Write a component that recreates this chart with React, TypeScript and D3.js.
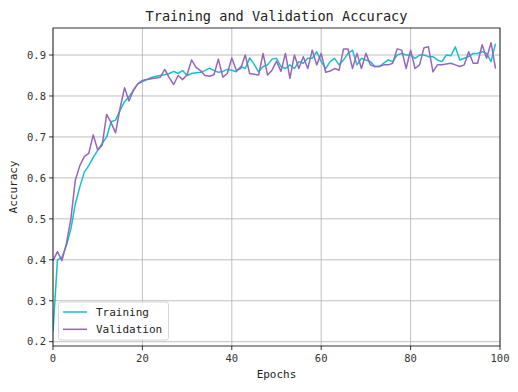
import React from "react";
import * as d3 from "d3";

const epochs: number[] = Array.from({ length: 100 }, (_, i) => i);

const training: number[] = [
  0.225, 0.4, 0.406, 0.435, 0.475, 0.537, 0.578, 0.614, 0.63, 0.65,
  0.667, 0.684, 0.7, 0.737, 0.741, 0.765, 0.786, 0.798, 0.814, 0.83,
  0.835, 0.84, 0.845, 0.848, 0.85, 0.852, 0.855, 0.86, 0.855, 0.862,
  0.85, 0.855, 0.857, 0.858, 0.862, 0.868, 0.862, 0.858, 0.86, 0.865,
  0.863, 0.859, 0.872, 0.867, 0.893, 0.877, 0.859, 0.872, 0.876, 0.89,
  0.892, 0.872, 0.867, 0.876, 0.867, 0.884, 0.88, 0.892, 0.892, 0.908,
  0.884, 0.867, 0.884, 0.892, 0.876, 0.888, 0.904, 0.912, 0.876, 0.892,
  0.888, 0.884, 0.872, 0.872, 0.88, 0.888, 0.884, 0.9, 0.904, 0.9,
  0.9, 0.892, 0.9, 0.9, 0.896, 0.896, 0.888, 0.884, 0.9, 0.898,
  0.92, 0.888, 0.892, 0.896, 0.904, 0.904, 0.908, 0.904, 0.884, 0.928,
];

const validation: number[] = [
  0.398, 0.42, 0.398, 0.44, 0.5, 0.595, 0.63, 0.652, 0.66, 0.705,
  0.668, 0.68, 0.755, 0.735, 0.71, 0.77, 0.82, 0.788, 0.814, 0.83,
  0.838, 0.84, 0.842, 0.844, 0.846, 0.865, 0.845, 0.828, 0.85, 0.84,
  0.852, 0.888, 0.87, 0.862, 0.85, 0.848, 0.852, 0.89, 0.846, 0.855,
  0.893, 0.863, 0.867, 0.9, 0.855, 0.853, 0.851, 0.904, 0.851, 0.863,
  0.885, 0.86, 0.904, 0.843, 0.9, 0.867, 0.896, 0.867, 0.912, 0.876,
  0.904, 0.858, 0.861, 0.867, 0.863, 0.915, 0.915, 0.867, 0.904, 0.867,
  0.904, 0.876, 0.872, 0.872, 0.876, 0.876, 0.88, 0.915, 0.912, 0.867,
  0.912, 0.867, 0.876, 0.918, 0.92, 0.859, 0.876, 0.876, 0.878, 0.88,
  0.876, 0.872, 0.876, 0.908, 0.88, 0.88, 0.925, 0.892, 0.93, 0.867,
];

const xTicks: number[] = [0, 20, 40, 60, 80, 100];
const yTicks: number[] = [0.2, 0.3, 0.4, 0.5, 0.6, 0.7, 0.8, 0.9];

const seriesNames = ["Training", "Validation"];
const seriesColors = ["#17becf", "#9467bd"];

const W = 518;
const H = 392;
const left = 53;
const right = 500;
const top = 28;
const bottom = 346;
const font = "'DejaVu Sans Mono', monospace";

export default function App() {
  const x = d3.scaleLinear().domain([0, 100]).range([left, right]);
  const y = d3.scaleLinear().domain([0.1895, 0.966]).range([bottom, top]);
  const line = d3
    .line<number>()
    .x((_, i) => x(epochs[i]))
    .y((d) => y(d));
  const series = [training, validation];

  return (
    <svg
      width={W}
      height={H}
      style={{ position: "absolute", left: 0, top: 0, background: "#fff" }}
    >
      <rect x={0} y={0} width={W} height={H} fill="#fff" />
      {/* grid */}
      {xTicks.map((t) => (
        <line key={"gx" + t} x1={x(t)} x2={x(t)} y1={top} y2={bottom} stroke="#b0b0b0" strokeWidth={0.8} />
      ))}
      {yTicks.map((t) => (
        <line key={"gy" + t} x1={left} x2={right} y1={y(t)} y2={y(t)} stroke="#b0b0b0" strokeWidth={0.8} />
      ))}
      {/* lines */}
      <g clipPath="url(#clip)">
        {series.map((s, i) => (
          <path key={i} d={line(s) || ""} fill="none" stroke={seriesColors[i]} strokeWidth={1.5} strokeLinejoin="round" />
        ))}
      </g>
      <defs>
        <clipPath id="clip">
          <rect x={left} y={top} width={right - left} height={bottom - top} />
        </clipPath>
      </defs>
      {/* spines */}
      <rect x={left} y={top} width={right - left} height={bottom - top} fill="none" stroke="#000" strokeWidth={0.8} />
      {/* ticks */}
      {xTicks.map((t) => (
        <g key={"tx" + t}>
          <line x1={x(t)} x2={x(t)} y1={bottom} y2={bottom + 4} stroke="#000" strokeWidth={0.8} />
          <text x={x(t)} y={362} textAnchor="middle" fontFamily={font} fontSize={10.5} fill="#333">
            {t}
          </text>
        </g>
      ))}
      {yTicks.map((t) => (
        <g key={"ty" + t}>
          <line x1={left - 4} x2={left} y1={y(t)} y2={y(t)} stroke="#000" strokeWidth={0.8} />
          <text x={left - 7} y={y(t) + 3.8} textAnchor="end" fontFamily={font} fontSize={10.5} fill="#333">
            {t.toFixed(1)}
          </text>
        </g>
      ))}
      {/* labels */}
      <text x={(left + right) / 2} y={21} textAnchor="middle" fontFamily={font} fontSize={13.6} fill="#222">
        Training and Validation Accuracy
      </text>
      <text x={(left + right) / 2} y={378} textAnchor="middle" fontFamily={font} fontSize={11} fill="#222">
        Epochs
      </text>
      <text
        transform={`translate(17,${(top + bottom) / 2}) rotate(-90)`}
        textAnchor="middle"
        fontFamily={font}
        fontSize={11}
        fill="#222"
      >
        Accuracy
      </text>
      {/* legend */}
      <rect x={58.5} y={302} width={110} height={38} rx={2.5} fill="#fff" fillOpacity={0.8} stroke="#cccccc" strokeWidth={0.8} />
      {seriesNames.map((n, i) => (
        <g key={n}>
          <line x1={63} x2={87} y1={312 + i * 17.3} y2={312 + i * 17.3} stroke={seriesColors[i]} strokeWidth={1.5} />
          <text x={96} y={316 + i * 17.3} fontFamily={font} fontSize={11} fill="#222">
            {n}
          </text>
        </g>
      ))}
    </svg>
  );
}
